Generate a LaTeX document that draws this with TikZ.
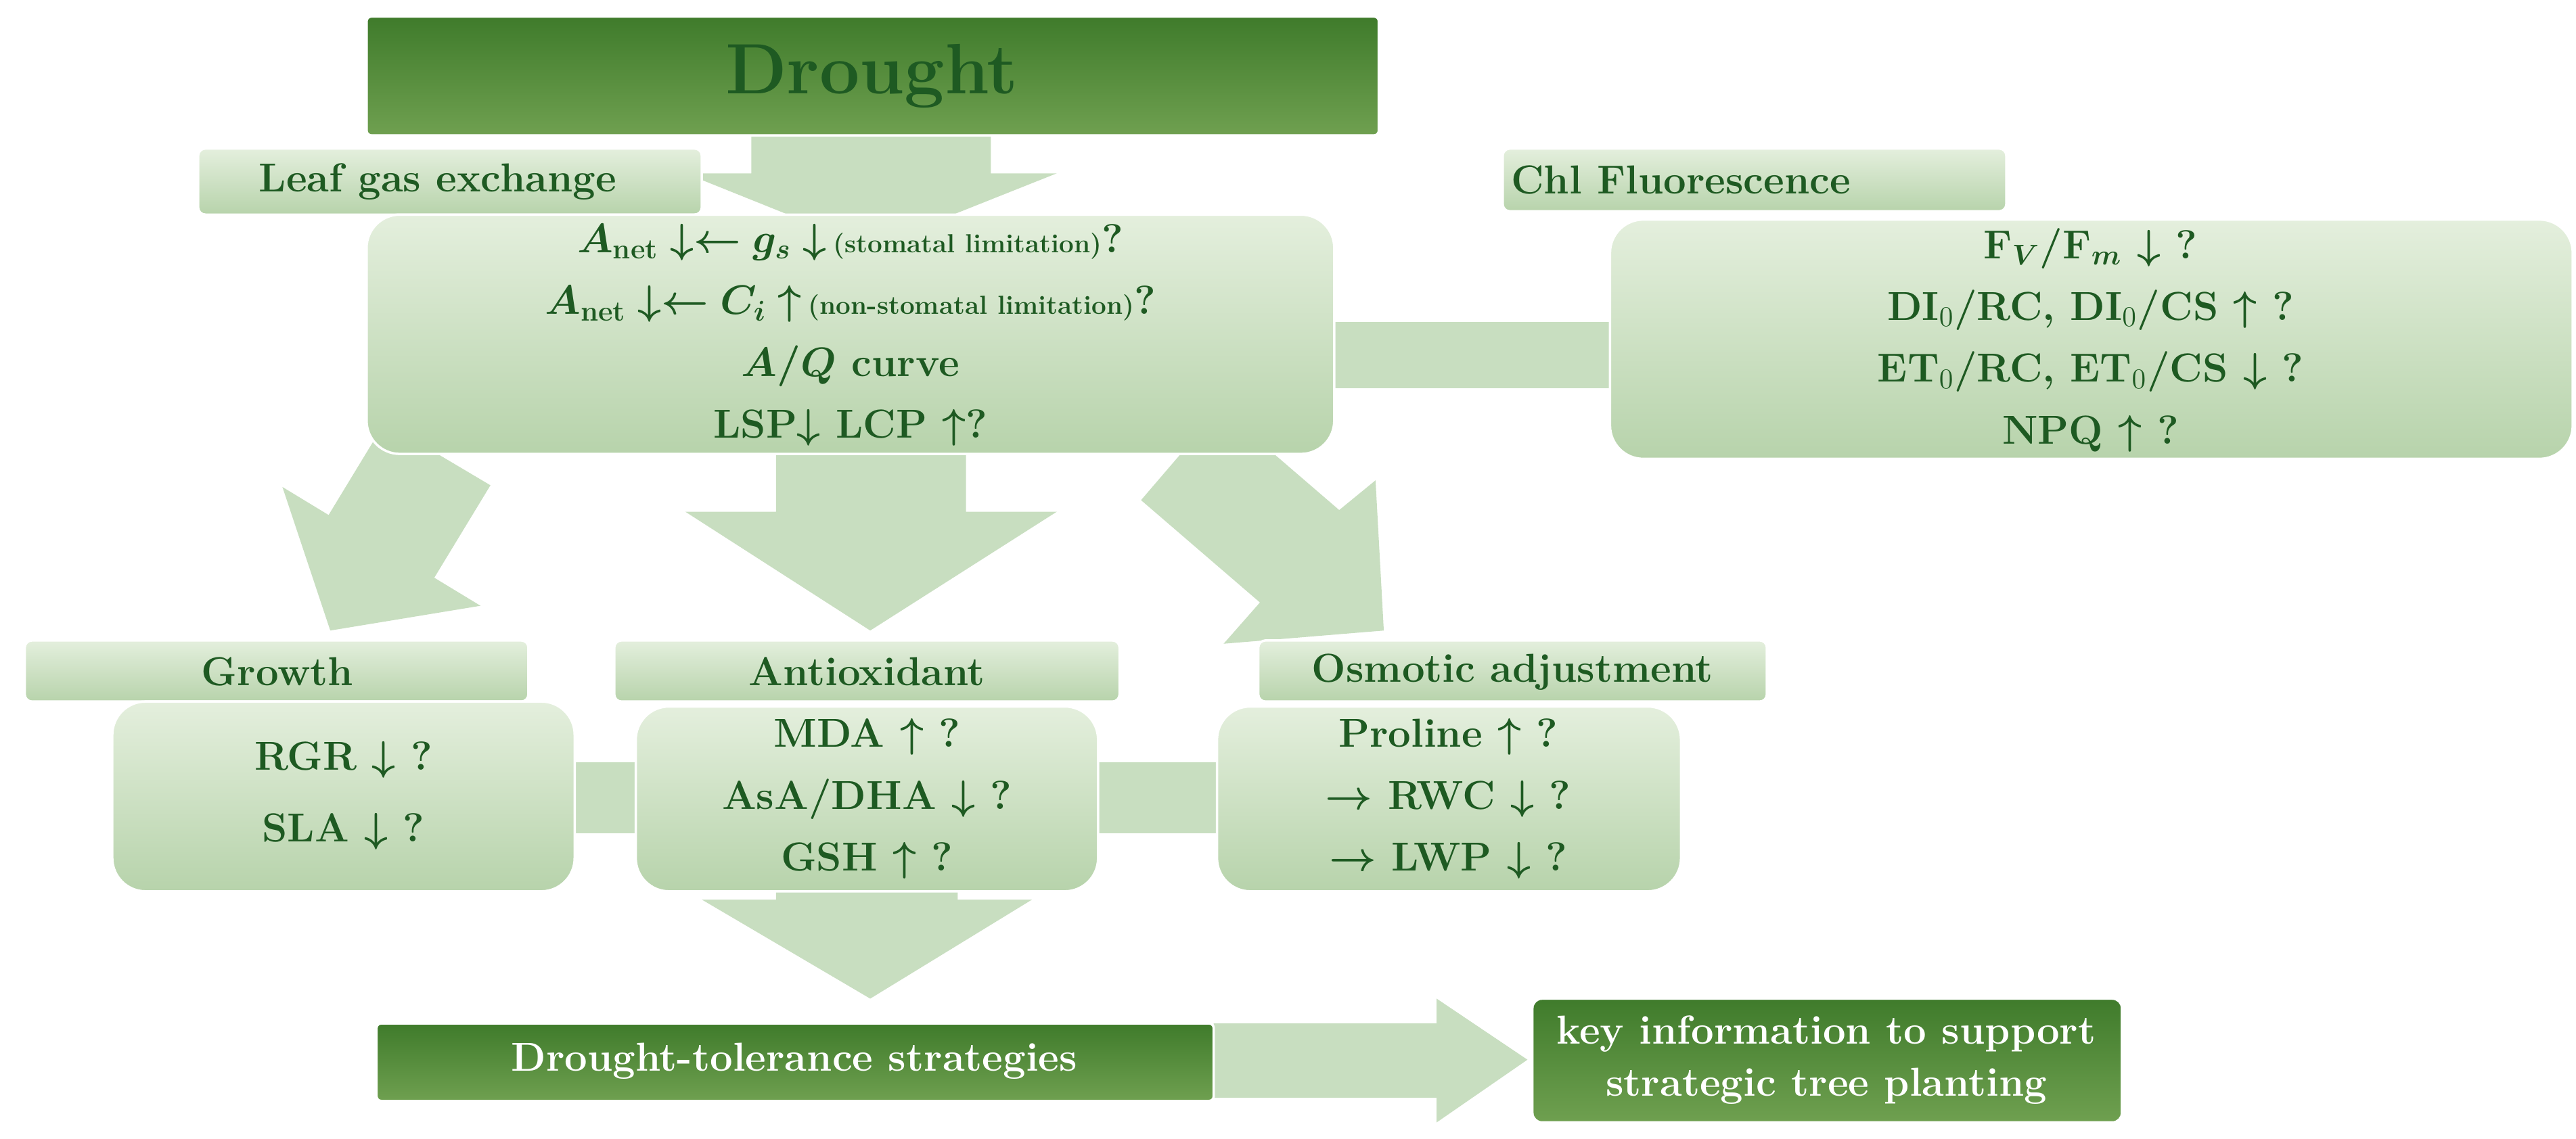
\documentclass[tikz,border=0pt]{standalone}
\usepackage{amsmath}
\begin{document}
\begin{tikzpicture}[x=0.0244cm,y=-0.0244cm,
 lab/.style={draw=white,line width=1pt,top color=lgtop,bottom color=lgbot,rounded corners=3pt},
 box/.style={draw=white,line width=1pt,top color=lgtop,bottom color=lgbot,rounded corners=14pt},
 dark/.style={draw=white,line width=1pt,top color=dktop,bottom color=dkbot,rounded corners=2pt},
 lt/.style={text=dg,font=\fontsize{17}{20}\selectfont\bfseries,inner sep=0pt},
 bt/.style={text=dg,font=\fontsize{17}{26}\selectfont\bfseries,align=center,inner sep=0pt},
 dt/.style={text=white,font=\fontsize{17}{22}\selectfont\bfseries,align=center,inner sep=0pt},
 blk/.style={fill=arr,draw=none}]
\definecolor{lgtop}{HTML}{E4EFDD}\definecolor{lgbot}{HTML}{B7D3AB}
\definecolor{dktop}{HTML}{3F7B2B}\definecolor{dkbot}{HTML}{6FA050}
\definecolor{dg}{HTML}{1E5A22}\definecolor{arr}{HTML}{C8DEC0}
\useasboundingbox (0,0) rectangle (1560,690);
% arrows
\fill[blk] (455,82)--(600,82)--(600,105)--(640,105)--(527,150)--(415,105)--(455,105)--cycle;
\fill[blk] (808,195) rectangle (980,235);
\fill[blk] (470,270)--(585,270)--(585,310)--(640,310)--(527,382)--(415,310)--(470,310)--cycle;
\fill[blk] (297,294)--(263,350)--(291,367)--(200,382)--(171,295)--(199,312)--(233,256)--cycle;
\fill[blk] (691,303)--(763,365)--(741,390)--(838,382)--(833,291)--(811,309)--(739,247)--cycle;
\fill[blk] (345,462) rectangle (390,505);
\fill[blk] (660,462) rectangle (740,505);
\fill[blk] (470,535)--(580,535)--(580,545)--(625,545)--(527,605)--(425,545)--(470,545)--cycle;
\fill[blk] (735,620)--(870,620)--(870,605)--(925,642)--(870,680)--(870,665)--(735,665)--cycle;
% boxes
\draw[dark] (222,10) rectangle (835,82);
\node[lt,font=\fontsize{30}{34}\selectfont\bfseries,text=dg] (dr) at (528,46) {Drought};
\draw[lab] (120,90) rectangle (425,130);
\node[lt] (lge) at (265,110) {Leaf gas exchange};
\draw[lab] (910,90) rectangle (1215,128);
\node[lt] (chl) at (1018,109) {Chl Fluorescence};
\draw[box] (222,130) rectangle (808,275);
\node[bt] (lg) at (515,203) {%
$\boldsymbol{A}_{\textbf{net}}\boldsymbol{\downarrow}\boldsymbol{\leftarrow}\boldsymbol{g_s}\boldsymbol{\downarrow}$\,{\fontsize{11}{12}\selectfont(stomatal limitation)}?\\
$\boldsymbol{A}_{\textbf{net}}\boldsymbol{\downarrow}\boldsymbol{\leftarrow}\boldsymbol{C_i}\boldsymbol{\uparrow}$\,{\fontsize{11}{12}\selectfont(non-stomatal limitation)}?\\
$\boldsymbol{A/Q}$ curve\\
LSP$\boldsymbol{\downarrow}$ LCP $\boldsymbol{\uparrow}$?};
\draw[box] (975,133) rectangle (1558,278);
\node[bt] (cf) at (1266,206) {%
F$_{\boldsymbol{V}}$/F$_{\boldsymbol{m}}$ $\boldsymbol{\downarrow}$ ?\\
DI$_0$/RC, DI$_0$/CS $\boldsymbol{\uparrow}$ ?\\
ET$_0$/RC, ET$_0$/CS $\boldsymbol{\downarrow}$ ?\\
NPQ $\boldsymbol{\uparrow}$ ?};
\draw[lab] (15,388) rectangle (320,425);
\node[lt] (gl) at (168,407) {Growth};
\draw[lab] (372,388) rectangle (678,425);
\node[lt] (al) at (525,407) {Antioxidant};
\draw[lab] (762,388) rectangle (1070,425);
\node[lt] (ol) at (916,407) {Osmotic adjustment};
\draw[box] (68,425) rectangle (348,540);
\node[bt] (gb) at (208,482) {RGR $\boldsymbol{\downarrow}$ ?\\[4pt]SLA $\boldsymbol{\downarrow}$ ?};
\draw[box] (385,428) rectangle (665,540);
\node[bt] (ab) at (525,484) {MDA $\boldsymbol{\uparrow}$ ?\\AsA/DHA $\boldsymbol{\downarrow}$ ?\\GSH $\boldsymbol{\uparrow}$ ?};
\draw[box] (737,428) rectangle (1018,540);
\node[bt] (ob) at (877,484) {Proline $\boldsymbol{\uparrow}$ ?\\$\boldsymbol{\rightarrow}$ RWC $\boldsymbol{\downarrow}$ ?\\$\boldsymbol{\rightarrow}$ LWP $\boldsymbol{\downarrow}$ ?};
\draw[dark] (228,620) rectangle (735,667);
\node[dt] (dts) at (481,643) {Drought-tolerance strategies};
\draw[dark,rounded corners=4pt] (928,605) rectangle (1285,680);
\node[dt] (ki) at (1106,642) {key information to support\\strategic tree planting};
\end{tikzpicture}
\end{document}
